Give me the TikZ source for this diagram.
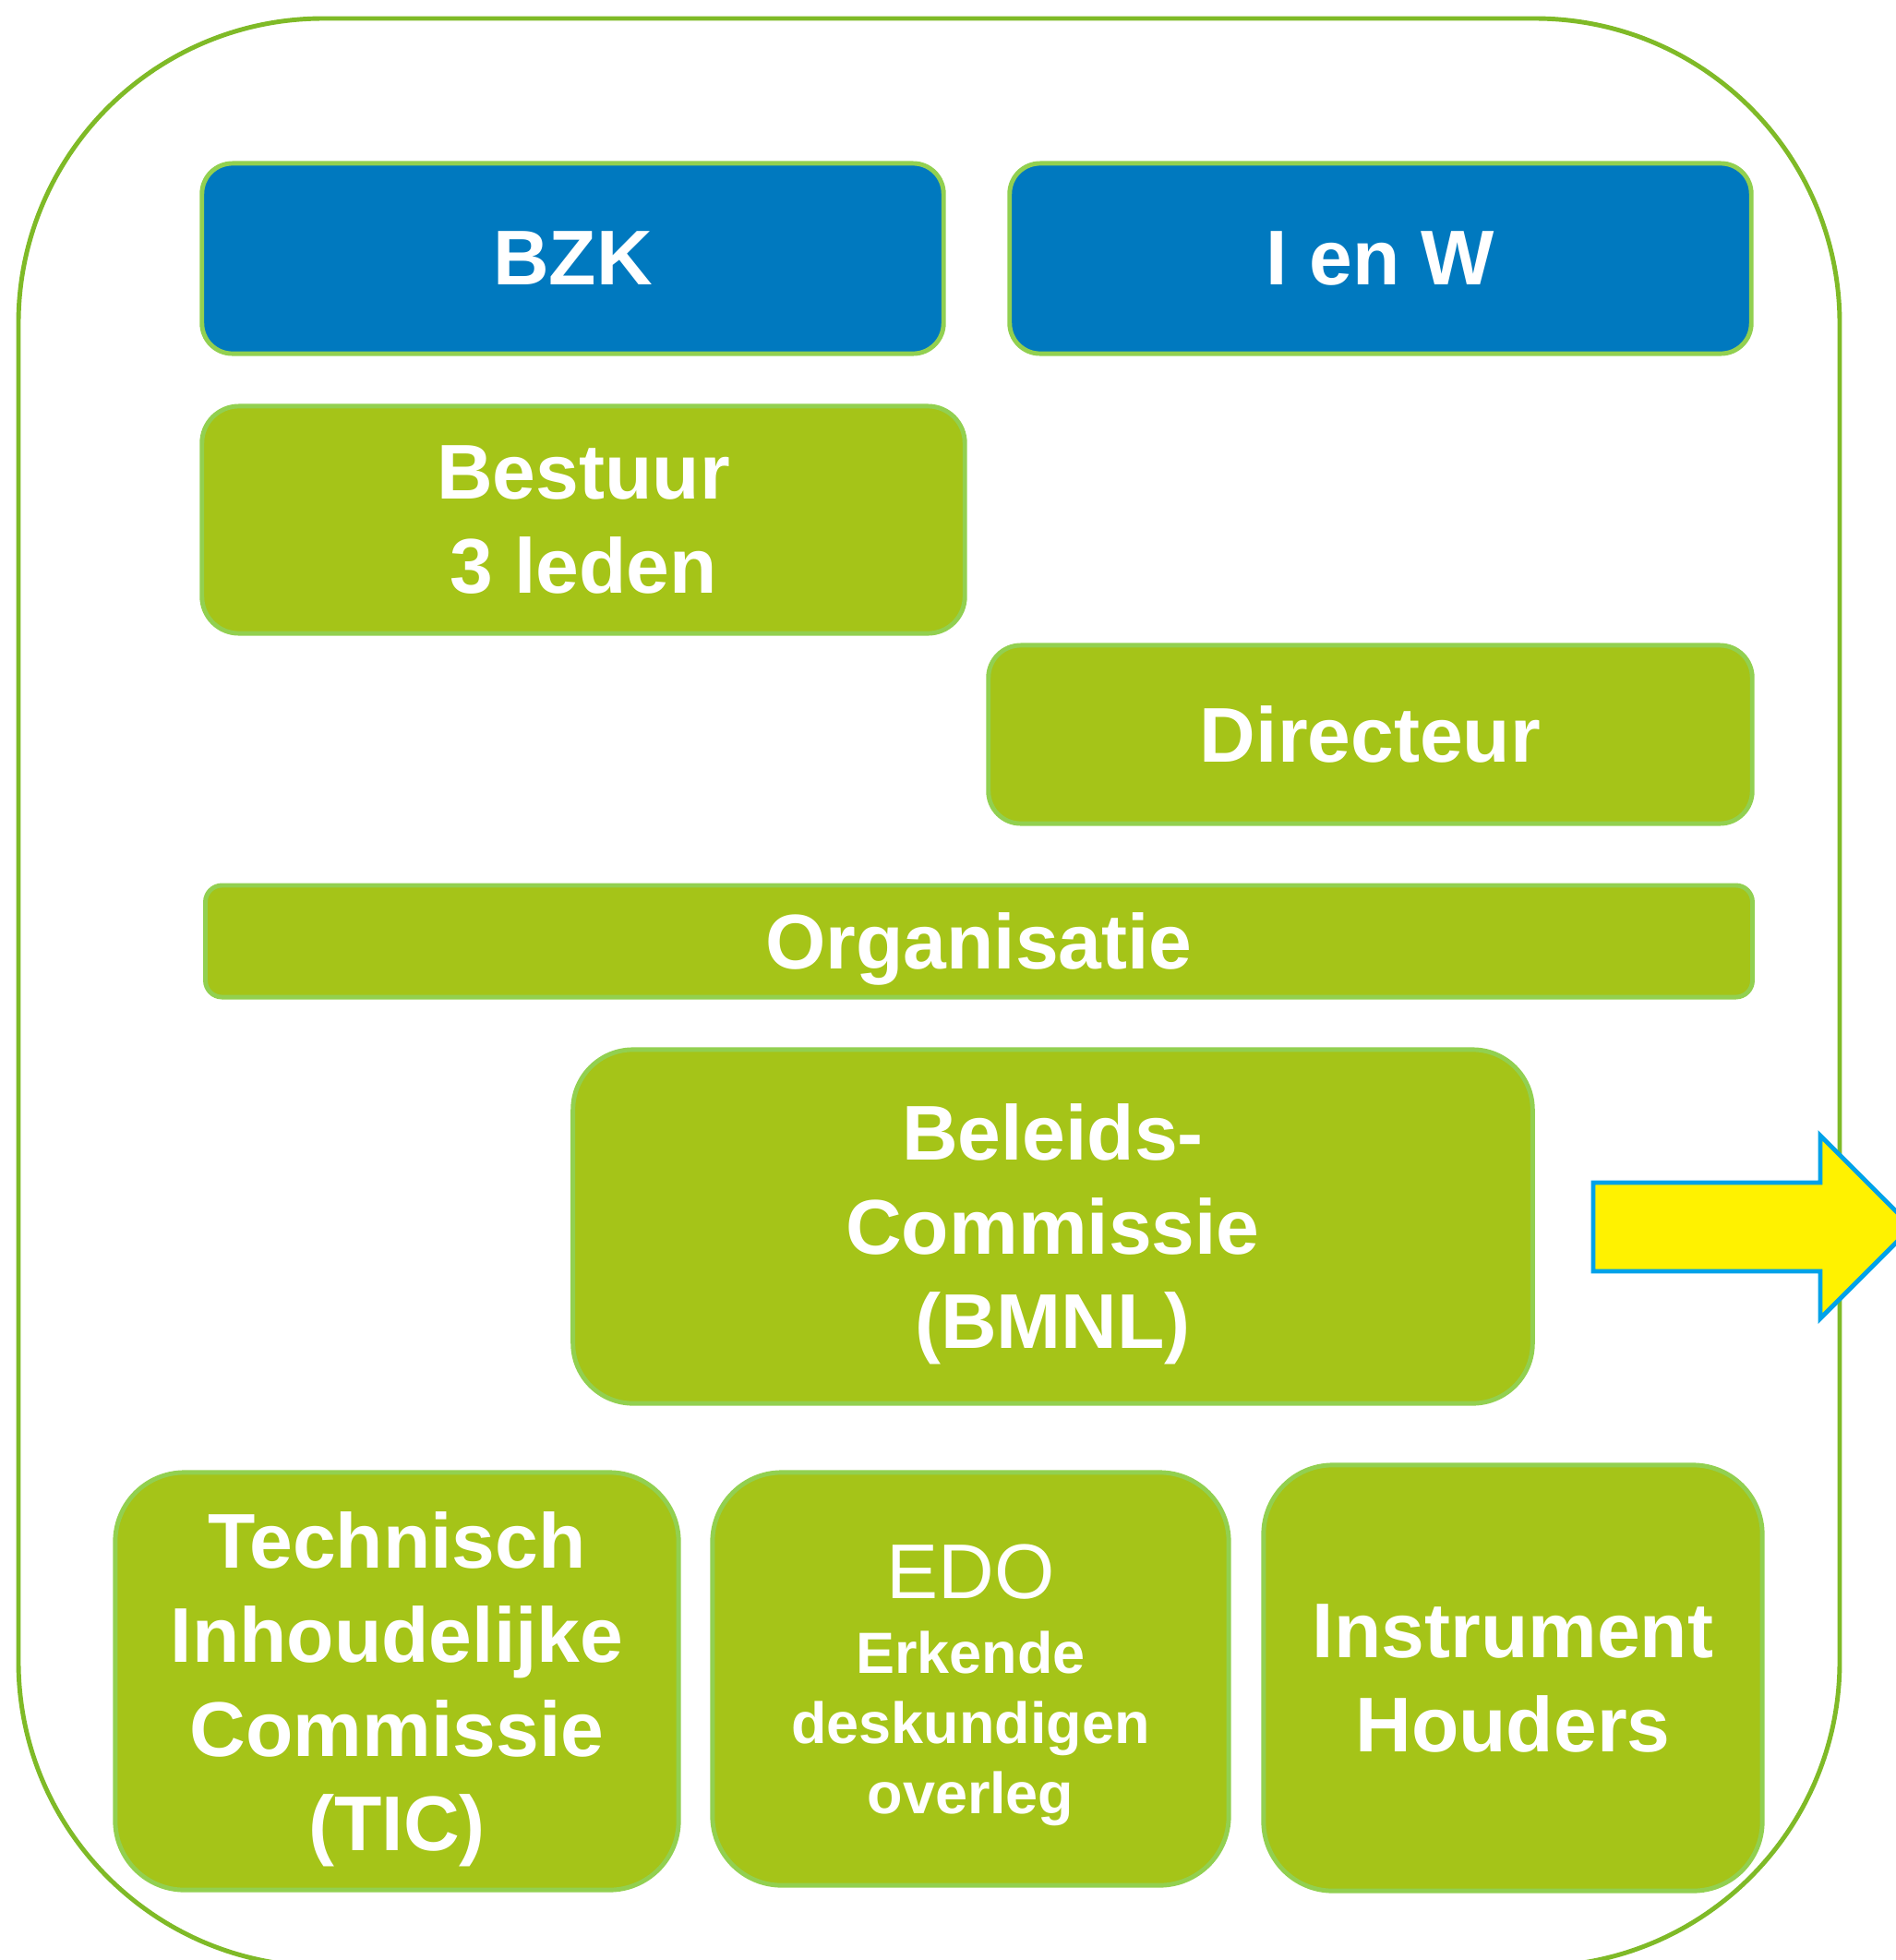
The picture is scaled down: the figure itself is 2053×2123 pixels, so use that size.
\documentclass[tikz,border=0pt]{standalone}
\usepackage{fontspec}
\setmainfont{Liberation Sans}
\usepackage{tikz}
\definecolor{bzkblauw}{RGB}{0,121,191}
\definecolor{vulgroen}{RGB}{165,196,24}
\definecolor{randgroen}{RGB}{146,208,80}
\definecolor{kadergroen}{RGB}{127,186,39}
\definecolor{pijlrand}{RGB}{0,162,232}
\tikzset{
  blok/.style={draw=randgroen, line width=1.4pt, fill=vulgroen, text=white, align=center, inner sep=0pt,
    text depth=0pt, font=\bfseries\fontsize{23.9}{29}\selectfont},
  blauwblok/.style={blok, fill=bzkblauw, rounded corners=0.33cm},
}

\begin{document}
\begin{tikzpicture}[x=0.01cm,y=-0.01cm]
\useasboundingbox (0,0) rectangle (2053,2123);
\draw[kadergroen, line width=1.4pt, rounded corners=3.3cm] (20,20) rectangle (1993,2130);
\node[blauwblok, minimum width=8.03cm, minimum height=2.06cm] (bzk) at (620.5,280) {BZK};
\node[blauwblok, minimum width=8.03cm, minimum height=2.06cm] (ienw) at (1495.5,280) {I en W};
\node[blok, rounded corners=0.4cm, minimum width=8.26cm, minimum height=2.46cm] (bestuur) at (632,563) {Bestuur\\3 leden};
\node[blok, rounded corners=0.35cm, minimum width=8.27cm, minimum height=1.93cm] (directeur) at (1484.5,795.5) {Directeur};
\node[blok, rounded corners=0.18cm, minimum width=16.75cm, minimum height=1.21cm] (organisatie) at (1060.5,1019.5) {Organisatie};
\node[blok, rounded corners=0.65cm, minimum width=10.39cm, minimum height=3.83cm] (beleid) at (1140.5,1328.5) {Beleids-\\Commissie\\(BMNL)};
\node[blok, rounded corners=0.75cm, minimum width=6.1cm, minimum height=4.52cm] (tic) at (430,1821) {Technisch\\Inhoudelijke\\Commissie\\(TIC)};
\node[blok, rounded corners=0.75cm, minimum width=5.59cm, minimum height=4.47cm, font=\bfseries\fontsize{17.9}{21.6}\selectfont] (edo) at (1051.5,1818.5) {{\mdseries\fontsize{23.9}{29}\selectfont EDO}\\[1.4pt]Erkende\\deskundigen\\overleg};
\node[blok, rounded corners=0.75cm, minimum width=5.4cm, minimum height=4.61cm] (houders) at (1639,1817.5) {Instrument\\Houders};
\draw[pijlrand, fill=yellow, line width=1.4pt] (1726,1281) -- (1972,1281) -- (1972,1230) -- (2071,1329) -- (1972,1428) -- (1972,1377) -- (1726,1377) -- cycle;
\end{tikzpicture}
\end{document}
